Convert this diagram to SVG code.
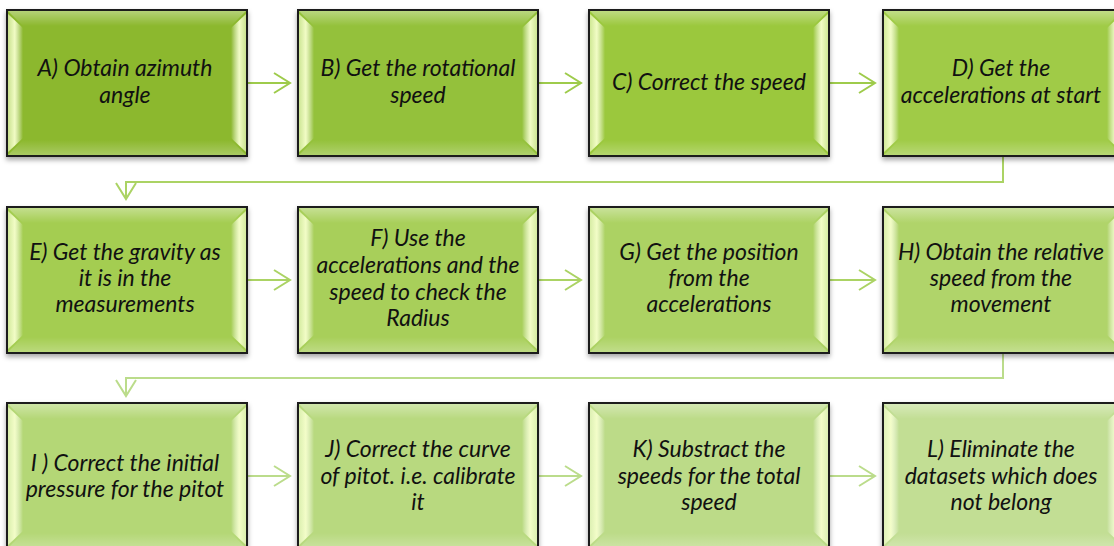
<svg xmlns="http://www.w3.org/2000/svg" width="1114" height="546" viewBox="0 0 1114 546">
<style>
.box{stroke:#1e1e1e;stroke-width:2}
.t{font-family:Lato,"Open Sans","Liberation Sans",sans-serif;font-style:italic;font-size:23px;fill:#111;text-anchor:middle}
.c1{fill:none;stroke:#9ecb4b;stroke-width:2}
.c2{fill:none;stroke:#abd364;stroke-width:2}
.c3{fill:none;stroke:#bbdc8b;stroke-width:2}
.bl{fill:url(#gl)}
.br{fill:url(#gr)}
.bt{fill:url(#gt)}
.bb{fill:url(#gb)}
</style>
<defs>
<filter id="sh" x="-10%" y="-10%" width="120%" height="130%"><feDropShadow dx="0" dy="3" stdDeviation="2.5" flood-color="#000" flood-opacity="0.35"/></filter>
<linearGradient id="gl" x1="0" y1="0" x2="1" y2="0"><stop offset="0" stop-color="#f4ffd0" stop-opacity="0.6"/><stop offset="0.45" stop-color="#f6ffcc" stop-opacity="0.95"/><stop offset="1" stop-color="#ffffff" stop-opacity="0"/></linearGradient>
<linearGradient id="gr" x1="1" y1="0" x2="0" y2="0"><stop offset="0" stop-color="#f4ffd0" stop-opacity="0.6"/><stop offset="0.45" stop-color="#f6ffcc" stop-opacity="0.95"/><stop offset="1" stop-color="#ffffff" stop-opacity="0"/></linearGradient>
<linearGradient id="gt" x1="0" y1="0" x2="0" y2="1"><stop offset="0" stop-color="#ffffff" stop-opacity="0.35"/><stop offset="1" stop-color="#ffffff" stop-opacity="0"/></linearGradient>
<linearGradient id="gb" x1="0" y1="1" x2="0" y2="0"><stop offset="0" stop-color="#ffffff" stop-opacity="0.25"/><stop offset="1" stop-color="#ffffff" stop-opacity="0"/></linearGradient>
<marker id="m1" markerUnits="userSpaceOnUse" markerWidth="20" markerHeight="24" viewBox="0 0 20 24" refX="18" refY="11" orient="auto"><path d="M2,1 L18,11 L2,21" fill="none" stroke="#9ecb4b" stroke-width="2"/></marker>
<marker id="m2" markerUnits="userSpaceOnUse" markerWidth="20" markerHeight="24" viewBox="0 0 20 24" refX="18" refY="11" orient="auto"><path d="M2,1 L18,11 L2,21" fill="none" stroke="#abd364" stroke-width="2"/></marker>
<marker id="m3" markerUnits="userSpaceOnUse" markerWidth="20" markerHeight="24" viewBox="0 0 20 24" refX="18" refY="11" orient="auto"><path d="M2,1 L18,11 L2,21" fill="none" stroke="#bbdc8b" stroke-width="2"/></marker>
<g id="bevel">
<path class="bt" d="M1,1 H239 L224,16 H16 Z"/>
<path class="bb" d="M1,145 H239 L224,130 H16 Z"/>
<path class="bl" d="M1,4 L16,18 V128 L1,142 Z"/>
<path class="br" d="M239,4 L224,18 V128 L239,142 Z"/>
</g>
</defs>

<g id="connectors">
<path class="c1" d="M247,83 H290" marker-end="url(#m1)"/>
<path class="c1" d="M538,83 H581" marker-end="url(#m1)"/>
<path class="c1" d="M829,83 H875" marker-end="url(#m1)"/>
<path class="c2" d="M1003,156 V182 H126 V199" marker-end="url(#m2)"/>
<path class="c2" d="M247,280 H290" marker-end="url(#m2)"/>
<path class="c2" d="M538,280 H581" marker-end="url(#m2)"/>
<path class="c2" d="M829,280 H875" marker-end="url(#m2)"/>
<path class="c3" d="M1003,352 V378 H126 V396" marker-end="url(#m3)"/>
<path class="c3" d="M247,476 H290" marker-end="url(#m3)"/>
<path class="c3" d="M538,476 H581" marker-end="url(#m3)"/>
<path class="c3" d="M829,476 H875" marker-end="url(#m3)"/>
</g>

<g id="A" transform="translate(7,10)">
<rect class="box" width="240" height="146" fill="#8cb82f" filter="url(#sh)"/><use href="#bevel"/>
<text class="t" x="118" y="66">A) Obtain azimuth</text><text class="t" x="118" y="93">angle</text>
</g>
<g id="B" transform="translate(298,10)">
<rect class="box" width="240" height="146" fill="#94c13a" filter="url(#sh)"/><use href="#bevel"/>
<text class="t" x="120" y="66">B) Get the rotational</text><text class="t" x="120" y="93">speed</text>
</g>
<g id="C" transform="translate(589,10)">
<rect class="box" width="240" height="146" fill="#9bc83e" filter="url(#sh)"/><use href="#bevel"/>
<text class="t" x="120" y="80">C) Correct the speed</text>
</g>
<g id="D" transform="translate(883,10)">
<rect class="box" width="240" height="146" fill="#a0cb46" filter="url(#sh)"/><use href="#bevel"/>
<text class="t" x="118" y="66">D) Get the</text><text class="t" x="118" y="93">accelerations at start</text>
</g>

<g id="E" transform="translate(7,207)">
<rect class="box" width="240" height="146" fill="#a4cd51" filter="url(#sh)"/><use href="#bevel"/>
<text class="t" x="118" y="53">E) Get the gravity as</text><text class="t" x="118" y="79">it is in the</text><text class="t" x="118" y="105">measurements</text>
</g>
<g id="F" transform="translate(298,207)">
<rect class="box" width="240" height="146" fill="#a8cf5a" filter="url(#sh)"/><use href="#bevel"/>
<text class="t" x="120" y="39">F) Use the</text><text class="t" x="120" y="66">accelerations and the</text><text class="t" x="120" y="93">speed to check the</text><text class="t" x="120" y="119">Radius</text>
</g>
<g id="G" transform="translate(589,207)">
<rect class="box" width="240" height="146" fill="#acd263" filter="url(#sh)"/><use href="#bevel"/>
<text class="t" x="120" y="53">G) Get the position</text><text class="t" x="120" y="79">from the</text><text class="t" x="120" y="105">accelerations</text>
</g>
<g id="H" transform="translate(883,207)">
<rect class="box" width="240" height="146" fill="#b0d46b" filter="url(#sh)"/><use href="#bevel"/>
<text class="t" x="118" y="53">H) Obtain the relative</text><text class="t" x="118" y="79">speed from the</text><text class="t" x="118" y="105">movement</text>
</g>

<g id="I" transform="translate(7,403)">
<rect class="box" width="240" height="146" fill="#b4d776" filter="url(#sh)"/><use href="#bevel"/>
<text class="t" x="118" y="68">I ) Correct the initial</text><text class="t" x="118" y="94">pressure for the pitot</text>
</g>
<g id="J" transform="translate(298,403)">
<rect class="box" width="240" height="146" fill="#b8d97f" filter="url(#sh)"/><use href="#bevel"/>
<text class="t" x="120" y="54">J) Correct the curve</text><text class="t" x="120" y="81">of pitot. i.e. calibrate</text><text class="t" x="120" y="107">it</text>
</g>
<g id="K" transform="translate(589,403)">
<rect class="box" width="240" height="146" fill="#bcdb88" filter="url(#sh)"/><use href="#bevel"/>
<text class="t" x="120" y="54">K) Substract the</text><text class="t" x="120" y="81">speeds for the total</text><text class="t" x="120" y="107">speed</text>
</g>
<g id="L" transform="translate(883,403)">
<rect class="box" width="240" height="146" fill="#c2de94" filter="url(#sh)"/><use href="#bevel"/>
<text class="t" x="118" y="54">L) Eliminate the</text><text class="t" x="118" y="81">datasets which does</text><text class="t" x="118" y="107">not belong</text>
</g>
</svg>
